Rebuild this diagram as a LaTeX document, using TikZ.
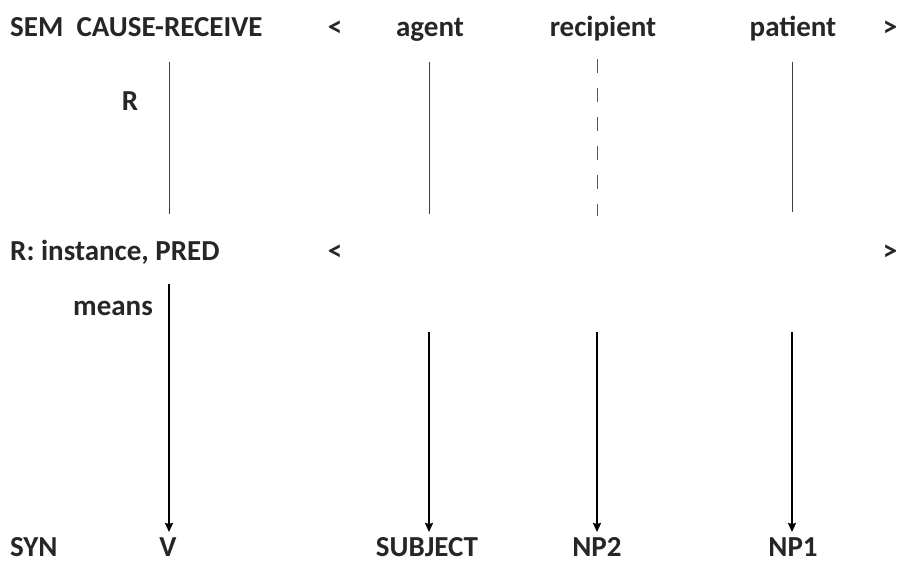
\documentclass[tikz,border=0pt]{standalone}
\usepackage{fontspec}
\setmainfont{Carlito}
\usetikzlibrary{arrows.meta}
\begin{document}
\begin{tikzpicture}[x=1pt,y=-1pt,
  lbl/.style={font=\fontsize{29}{34}\selectfont\bfseries,inner sep=0pt,text=black!85},
  vline/.style={line width=1pt,draw=black!75},
  dline/.style={line width=1pt,draw=black!65,dash pattern=on 14pt off 15pt},
  arr/.style={line width=1.8pt,-{Stealth[length=9pt,width=8pt,inset=1pt]}}]
\useasboundingbox (0,0) rectangle (905,565);
% row 1
\node[lbl,anchor=base west] (sem) at (10,36) {SEM\ \ CAUSE-RECEIVE};
\node[lbl,anchor=base] (lt1) at (335,36) {<};
\node[lbl,anchor=base] (agent) at (430,36) {agent};
\node[lbl,anchor=base] (recip) at (603,36) {recipient};
\node[lbl,anchor=base] (pat) at (793,36) {patient};
\node[lbl,anchor=base] (gt1) at (890,36) {>};
\node[lbl,anchor=base] (r) at (130,110) {R};
% row 2
\node[lbl,anchor=base west] (rinst) at (10,260) {R: instance, PRED};
\node[lbl,anchor=base] (lt2) at (335,260) {<};
\node[lbl,anchor=base] (gt2) at (890,260) {>};
\node[lbl,anchor=base west] (means) at (73,315) {means};
% row 3
\node[lbl,anchor=base west] (syn) at (10,556) {SYN};
\node[lbl,anchor=base] (v) at (168,556) {V};
\node[lbl,anchor=base] (subj) at (427,556) {SUBJECT};
\node[lbl,anchor=base] (np2) at (597,556) {NP2};
\node[lbl,anchor=base] (np1) at (793,556) {NP1};
% coordinates
\coordinate (a1) at (169,62); \coordinate (a2) at (169,214);
\coordinate (b1) at (429,62); \coordinate (b2) at (429,214);
\coordinate (c1) at (597,59); \coordinate (c2) at (597,216);
\coordinate (d1) at (792,62); \coordinate (d2) at (792,212);
\coordinate (e1) at (169,284); \coordinate (e2) at (169,532);
\coordinate (f1) at (429,332); \coordinate (f2) at (429,532);
\coordinate (g1) at (597,332); \coordinate (g2) at (597,532);
\coordinate (h1) at (792,332); \coordinate (h2) at (792,532);
\draw[vline] (a1) -- (a2);
\draw[vline] (b1) -- (b2);
\draw[dline] (c1) -- (c2);
\draw[vline] (d1) -- (d2);
\draw[arr] (e1) -- (e2);
\draw[arr] (f1) -- (f2);
\draw[arr] (g1) -- (g2);
\draw[arr] (h1) -- (h2);
\end{tikzpicture}
\end{document}
